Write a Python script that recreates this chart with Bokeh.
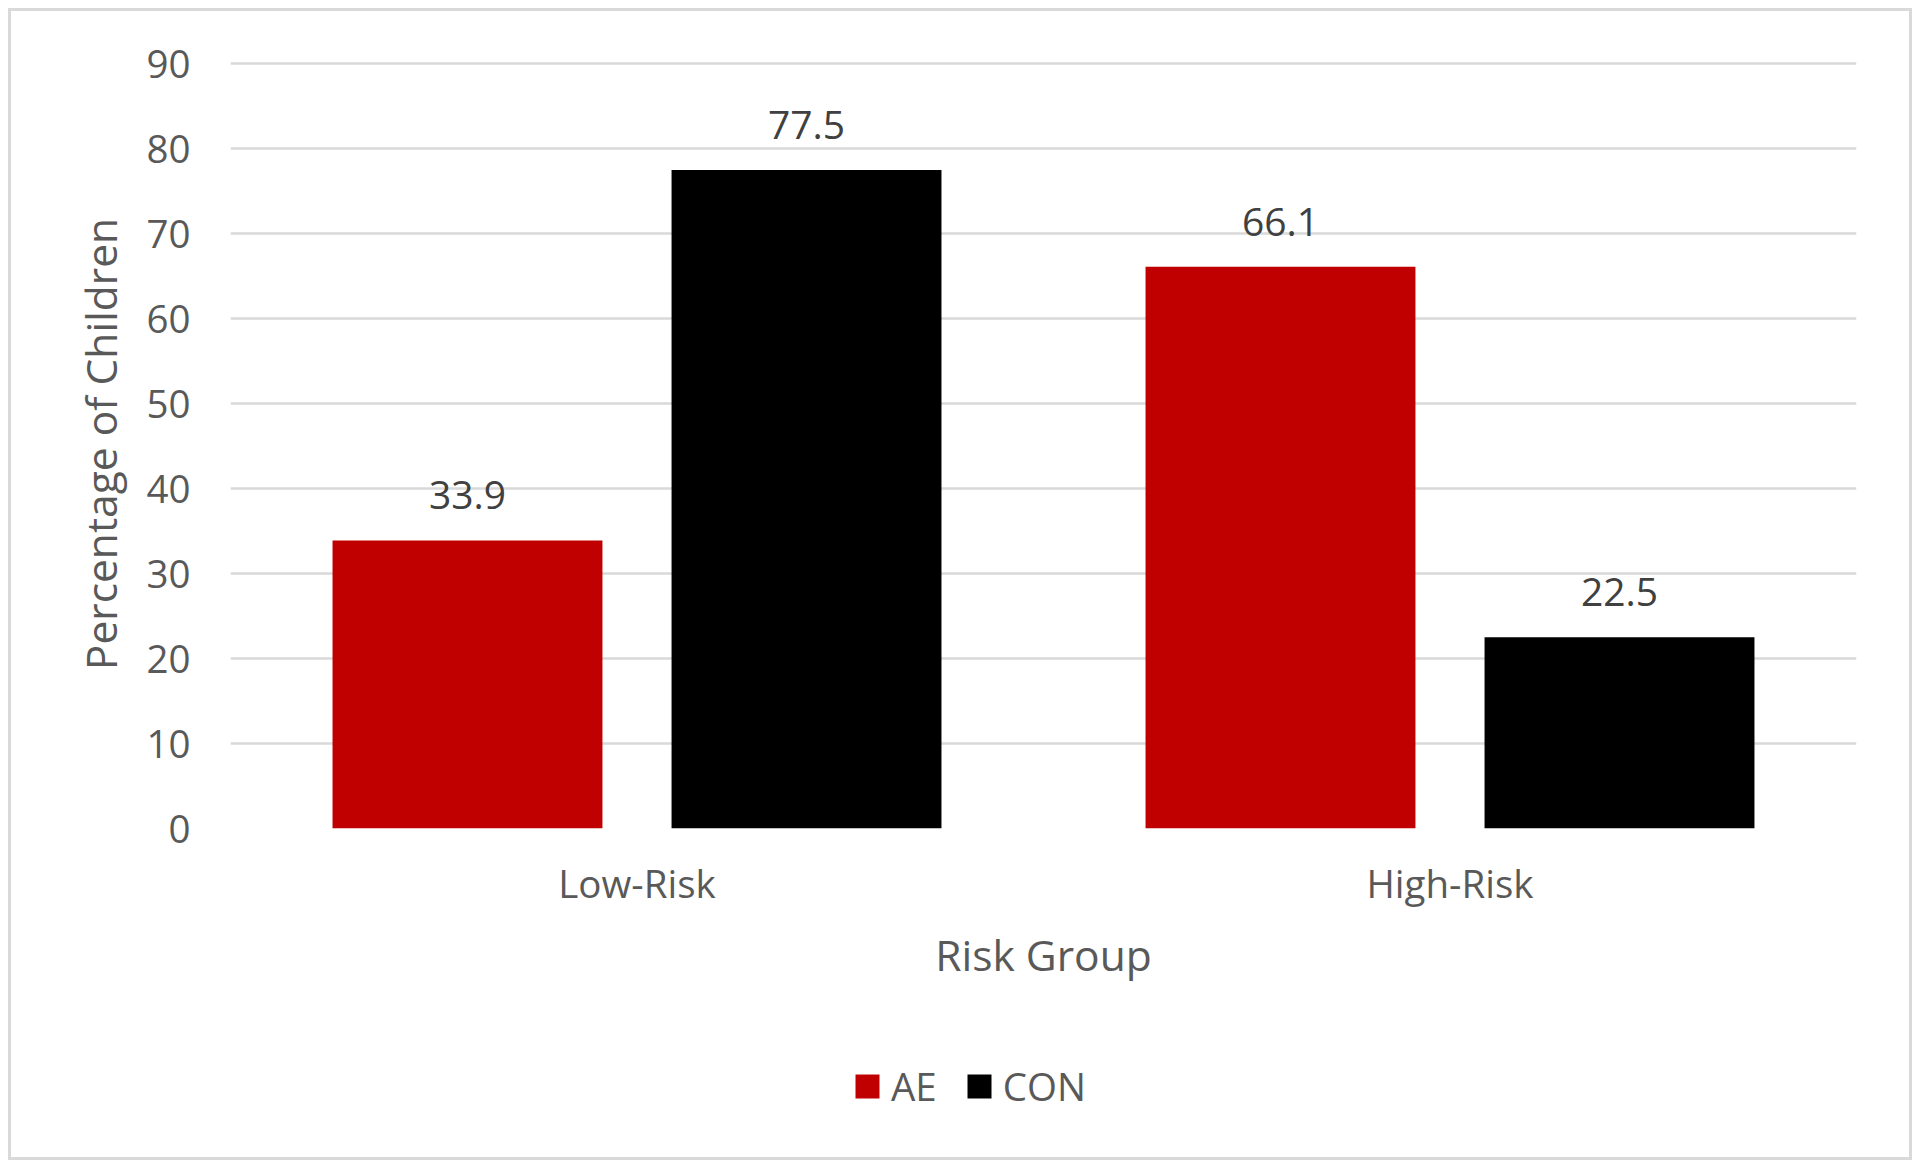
from bokeh.plotting import figure
from bokeh.layouts import column
from bokeh.models import (ColumnDataSource, FactorRange, Range1d, FixedTicker,
                          Legend, LegendItem)
from bokeh.transform import dodge
from bokeh.core.properties import value
from bokeh.embed import file_html
from bokeh.resources import INLINE

groups = ["Low-Risk", "High-Risk"]
ae_values = [33.9, 66.1]
con_values = [77.5, 22.5]
y_ticks = [0, 10, 20, 30, 40, 50, 60, 70, 80, 90]

FONT = "Open Sans"
RED = "#C00000"
BLACK = "#000000"
W = 1898
H_MAIN = 1029
H_LEG = 117

source = ColumnDataSource(dict(
    groups=groups,
    AE=ae_values,
    CON=con_values,
    ae_lbl=[f"{v:.1f}" for v in ae_values],
    con_lbl=[f"{v:.1f}" for v in con_values],
))

p = figure(
    width=W, height=H_MAIN,
    x_range=FactorRange(*groups, range_padding=0),
    y_range=Range1d(0, 90.5),
    output_backend="svg", toolbar_location=None,
    min_border_left=219, min_border_right=53,
    min_border_top=48, min_border_bottom=212,
)
p.outline_line_color = None
p.background_fill_color = "white"
p.border_fill_color = "white"

off = 0.2085
bw = 0.332
p.vbar(x=dodge("groups", -off, range=p.x_range), top="AE", width=bw,
       source=source, fill_color=RED, line_color=None)
p.vbar(x=dodge("groups", off, range=p.x_range), top="CON", width=bw,
       source=source, fill_color=BLACK, line_color=None)

for col, lbl, o in (("AE", "ae_lbl", -off), ("CON", "con_lbl", off)):
    p.text(x=dodge("groups", o, range=p.x_range), y=col, text=lbl, source=source,
           text_align="center", text_baseline="alphabetic", y_offset=-45,
           text_font=value(FONT), text_font_size=value("39px"),
           text_color="#404040")

# grid
p.xgrid.grid_line_color = None
p.ygrid.grid_line_color = "#d9d9d9"
p.ygrid.grid_line_width = 2.5

# y axis
p.yaxis.ticker = FixedTicker(ticks=y_ticks)
p.yaxis.axis_line_color = None
p.yaxis.major_tick_line_color = None
p.yaxis.minor_tick_line_color = None
p.yaxis.major_tick_out = 0
p.yaxis.major_label_standoff = 40
p.yaxis.major_label_text_font = FONT
p.yaxis.major_label_text_font_size = "38.5px"
p.yaxis.major_label_text_color = "#595959"
p.yaxis.axis_label = "Percentage of Children"
p.yaxis.axis_label_text_font = FONT
p.yaxis.axis_label_text_font_size = "42.5px"
p.yaxis.axis_label_text_font_style = "normal"
p.yaxis.axis_label_text_color = "#595959"
p.yaxis.axis_label_standoff = 14

# x axis
p.xaxis.axis_line_color = None
p.xaxis.major_tick_line_color = None
p.xaxis.minor_tick_line_color = None
p.xaxis.major_tick_out = 0
p.xaxis.major_label_standoff = 28
p.xaxis.major_label_text_font = FONT
p.xaxis.major_label_text_font_size = "38.5px"
p.xaxis.major_label_text_color = "#595959"
p.xaxis.axis_label = "Risk Group"
p.xaxis.axis_label_text_font = FONT
p.xaxis.axis_label_text_font_size = "42.5px"
p.xaxis.axis_label_text_font_style = "normal"
p.xaxis.axis_label_text_color = "#595959"
p.xaxis.axis_label_standoff = 14

# legend strip (same series, hidden renderers feed the legend glyphs)
q = figure(width=W, height=H_LEG, x_axis_type=None, y_axis_type=None,
           x_range=FactorRange(*groups, range_padding=0), y_range=Range1d(0, 1),
           output_backend="svg", toolbar_location=None,
           min_border=0)
q.outline_line_color = None
q.background_fill_color = "white"
q.border_fill_color = "white"
q.grid.grid_line_color = None
l_ae = q.vbar(x="groups", top="AE", width=bw, source=source,
              fill_color=RED, line_color=None, visible=False)
l_con = q.vbar(x="groups", top="CON", width=bw, source=source,
               fill_color=BLACK, line_color=None, visible=False)

legend = Legend(
    items=[LegendItem(label="AE", renderers=[l_ae]),
           LegendItem(label="CON", renderers=[l_con])],
    orientation="horizontal", location=(622, 45),
    glyph_width=30, glyph_height=30,
    label_text_font=FONT, label_text_font_size="38.5px",
    label_text_color="#595959", label_standoff=9, spacing=27,
    padding=0, margin=0, border_line_color=None, background_fill_alpha=0,
)
q.add_layout(legend)

layout = column(p, q, spacing=0,
                styles={"margin": "8px", "border": "3px solid #d9d9d9",
                        "box-sizing": "content-box"})

open("out.html", "w").write(file_html(layout, INLINE))
